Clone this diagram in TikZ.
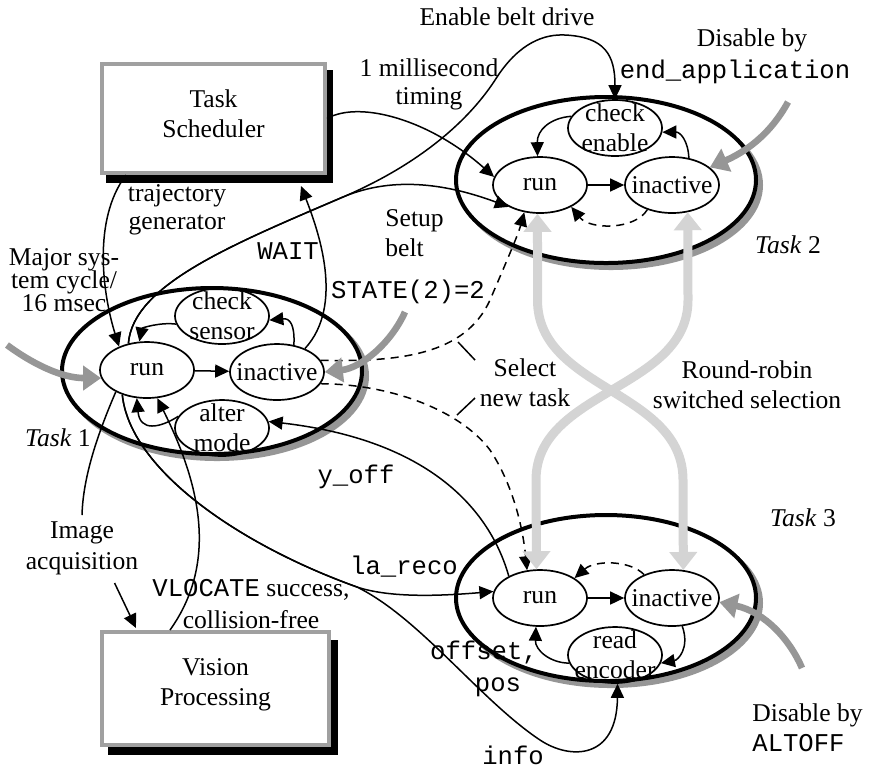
\documentclass[tikz,border=0pt]{standalone}
\usepackage{fontspec}
\setmainfont{Liberation Serif}
\setmonofont{Liberation Mono}
\usetikzlibrary{shapes.geometric,arrows.meta,calc}
\definecolor{shgray}{RGB}{150,150,150}
\definecolor{lgray}{RGB}{212,212,212}
\definecolor{boxgray}{RGB}{160,160,160}
\begin{document}
\begin{tikzpicture}[x=0.5pt,y=-0.5pt,
  lbl/.style={font=\fontsize{12.8}{15}\selectfont, align=center, inner sep=0pt},
  sell/.style={ellipse, draw, line width=0.85pt, minimum width=47pt, minimum height=28pt, inner sep=0pt},
  bell/.style={ellipse, draw, line width=2pt, fill=white, minimum width=150pt, minimum height=83pt, inner sep=0pt},
  bshadow/.style={ellipse, draw=shgray, fill=shgray, line width=2pt, minimum width=150pt, minimum height=83pt, inner sep=0pt},
  box/.style={draw=boxgray, line width=2pt, fill=white, inner sep=0pt},
  conn/.style={line width=0.75pt, -{Triangle[length=7pt,width=6.5pt]}},
  dconn/.style={conn, dash pattern=on 4pt off 3pt},
  plain/.style={line width=0.75pt},
  garrow/.style={line width=3.3pt, draw=shgray, -{Triangle[length=9pt,width=12pt,color=shgray]}},
  rr/.style={line width=4.5pt, draw=lgray, {Triangle[length=9pt,width=13.5pt,color=lgray]}-{Triangle[length=9pt,width=13.5pt,color=lgray]}}
]
\useasboundingbox (0,0) rectangle (870,768);

% ---- task ellipses with shadows
\node[bshadow] (sh1) at (217,376) {};
\node[bell] (task1) at (212,371) {};
\node[bshadow] (sh2) at (611,185) {};
\node[bell] (task2) at (606,180) {};
\node[bshadow] (sh3) at (611,603) {};
\node[bell] (task3) at (606,598) {};

% ---- state ellipses
\node[sell, label={[lbl]center:run}] (r1) at (147,370) {};
\node[sell, label={[lbl]center:inactive}] (i1) at (277,372) {};
\node[sell, label={[lbl]center:check\\sensor}] (c1) at (222,316) {};
\node[sell, label={[lbl]center:alter\\mode}] (a1) at (222,428) {};

\node[sell, label={[lbl]center:run}] (r2) at (540,185) {};
\node[sell, label={[lbl]center:inactive}] (i2) at (672,185) {};
\node[sell, label={[lbl]center:check\\enable}] (c2) at (615,128) {};

\node[sell, label={[lbl]center:run}] (r3) at (540,598) {};
\node[sell, label={[lbl]center:inactive}] (i3) at (672,598) {};
\node[sell, label={[lbl]center:read\\encoder}] (e3) at (615,655) {};

% ---- boxes
\fill[black] (106,70) rectangle (333,183);
\node[box, minimum width=111.5pt, minimum height=54.5pt,
  label={[lbl, yshift=2.5pt]center:Task\\Scheduler}] (sched) at (213.5,118.5) {};
\fill[black] (108,640) rectangle (338,755);
\node[box, minimum width=113.5pt, minimum height=56.5pt,
  label={[lbl, yshift=1.75pt]center:Vision\\Processing}] (vis) at (215.5,688.5) {};

% ---- text labels
\node[lbl] (tEnable) at (507,17) {Enable belt drive};
\node[lbl, font=\fontsize{12.8}{14}\selectfont] (tMs) at (429,84) {1 millisecond\\timing};
\node[lbl, font=\fontsize{12.8}{16}\selectfont] (tDis2) at (735,56) {\hspace*{17pt}Disable by\\\texttt{end\_application}};
\node[lbl, font=\fontsize{12.8}{14}\selectfont] (tTraj) at (177,210) {trajectory\\generator};
\node[lbl, anchor=west, align=left] (tSetup) at (385,233) {Setup\\belt};
\node[lbl] (tWait) at (288,251) {\texttt{WAIT}};
\node[lbl, font={\fontsize{12.8}{11.5}\selectfont\lineskiplimit=-20pt}] (tMajor) at (64,280) {Major sys-\\tem cycle/\\16 msec};
\node[lbl] (tState) at (408,292) {\texttt{STATE(2)=2}};
\node[lbl] (tSelect) at (525,383) {Select\\new task};
\node[lbl] (tRR) at (747,385) {Round-robin\\switched selection};
\node[lbl] (tT1) at (58,438) {\textit{Task} 1};
\node[lbl] (tT2) at (788,245) {\textit{Task} 2};
\node[lbl] (tT3) at (803,518) {\textit{Task} 3};
\node[lbl] (tYoff) at (356,477) {\texttt{y\_off}};
\node[lbl] (tLa) at (404,567) {\texttt{la\_reco}};
\node[lbl, font=\fontsize{12.8}{15.5}\selectfont] (tImg) at (82,548) {Image\\acquisition};
\node[lbl, font=\fontsize{12.8}{16}\selectfont] (tVloc) at (251,604) {\texttt{VLOCATE} success,\\collision-free};
\node[lbl, font=\fontsize{12.8}{16}\selectfont] (tOff) at (484,669) {\texttt{offset,}\\\hspace*{14pt}\texttt{pos}};
\node[lbl] (tInfo) at (513,755) {\texttt{info}};
\node[lbl, anchor=west, align=left] (tAlt) at (752,728) {Disable by\\\texttt{ALTOFF}};

% ---- internal transitions
\draw[conn] (r1) -- (i1);
\draw[conn] (i1.58) .. controls (295,325) and (290,318) .. (c1.355);
\draw[conn] (c1.190) .. controls (160,322) and (142,328) .. (r1.105);
\draw[conn] (a1.165) .. controls (160,428) and (140,432) .. (r1.250);

\draw[conn] (r2) -- (i2);
\draw[conn] (i2.58) .. controls (688,140) and (680,132) .. (c2.355);
\draw[conn] (c2.165) .. controls (550,118) and (537,130) .. (r2.95);
\draw[dconn] (i2.225) .. controls (635,230) and (590,230) .. (r2.325);

\draw[conn] (r3) -- (i3);
\draw[dconn] (i3.140) .. controls (630,560) and (595,560) .. (r3.30);
\draw[conn] (i3.290) .. controls (690,648) and (678,660) .. (e3.350);
\draw[conn] (e3.190) .. controls (550,663) and (535,650) .. (r3.262);

% ---- scheduler links
\draw[conn] (sched.east) .. controls (360,100) and (430,120) .. (r2.170);
\draw[conn] ([xshift=13pt]sched.south west) .. controls (92,220) and (103,295) .. (r1.140);
\draw[conn] (i1.40) .. controls (345,305) and (318,230) .. ([xshift=-13pt,yshift=-5.5pt]sched.south east);

% ---- belt links
\draw[conn] (r1.125) .. controls (133,285) and (231,245) .. (343,197)
   .. controls (420,164) and (470,120) .. (497,77)
   .. controls (520,42) and (545,34) .. (565,35)
   .. controls (605,37) and (615,55) .. (c2.north);
\draw[conn] (r1.125) .. controls (133,285) and (231,245) .. (343,197)
   .. controls (395,175) and (450,185) .. (r2.215);

% ---- select new task (dashed)
\draw[dconn] (i1.15) .. controls (400,362) and (465,355) .. (490,300)
   .. controls (505,265) and (518,235) .. (r2.240);
\draw[dconn] (i1.345) .. controls (390,384) and (460,410) .. (490,450)
   .. controls (510,480) and (522,520) .. (r3.115);
\draw[plain] (458,342) -- (475,360);
\draw[plain] (457,415) -- (475,398);

% ---- data links
\draw[conn] (r3.145) .. controls (490,510) and (430,440) .. (a1.8);
\draw[conn] (r1.225) .. controls (130,470) and (240,545) .. (357,587)
   .. controls (390,598) and (440,596) .. (r3.172);
\draw[conn] (r1.225) .. controls (130,470) and (240,545) .. (357,587)
   .. controls (420,618) and (480,700) .. (540,740)
   .. controls (570,760) and (617,760) .. (e3.275);
\draw[conn] ([xshift=35pt]vis.north west) .. controls (220,560) and (198,480) .. (r1.290);
\draw[plain] (r1.215) .. controls (95,440) and (83,480) .. ([yshift=3pt]tImg.north);
\draw[conn] ([xshift=-12pt,yshift=-4pt]tImg.south east) -- ([xshift=18pt,yshift=1pt]vis.north west);

% ---- round-robin selection
\draw[rr] (r2.265) -- (537.5,300) .. controls (537.5,390) and (683,390) .. (683,480) -- (i3.68);
\draw[rr] (i2.300) -- (688,300) .. controls (688,390) and (536,390) .. (536,480) -- (r3.97);

% ---- enable / disable arrows
\coordinate (gMaj) at (7,345);
\draw[garrow] (gMaj) .. controls (30,362) and (60,378) .. (r1.190);
\coordinate (gState) at (405,312);
\draw[garrow] (gState) .. controls (390,345) and (360,368) .. (i1.east);
\coordinate (gEnd) at (788,102);
\draw[garrow] (gEnd) .. controls (770,135) and (745,152) .. (i2.25);
\coordinate (gAlt) at (802,668);
\draw[garrow] (gAlt) .. controls (790,640) and (765,612) .. (i3.355);
\end{tikzpicture}
\end{document}
